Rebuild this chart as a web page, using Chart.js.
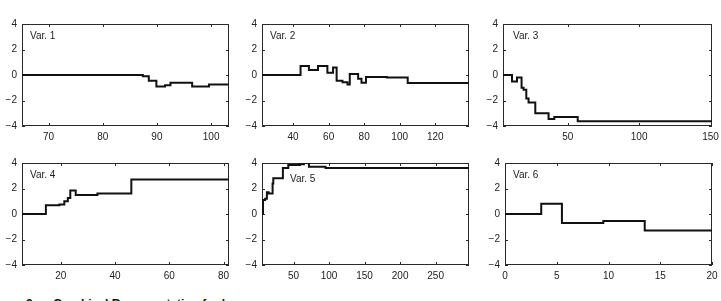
<!DOCTYPE html>
<html>
<head>
<meta charset="utf-8">
<script src="https://cdn.jsdelivr.net/npm/chart.js@4"></script>
<style>
  html, body { margin: 0; padding: 0; background: #fff; }
  body { width: 721px; height: 301px; position: relative; overflow: hidden; }
  canvas { position: absolute; }
  .cap { position: absolute; top: 297px; font: bold 12px "Liberation Sans Narrow", "Arial Narrow", "Liberation Sans", sans-serif; color: #111; white-space: nowrap; }
</style>
</head>
<body>
<canvas id="c1"></canvas>
<canvas id="c2"></canvas>
<canvas id="c3"></canvas>
<canvas id="c4"></canvas>
<canvas id="c5"></canvas>
<canvas id="c6"></canvas>
<div class="cap" style="left:-14px">Figure 3</div>
<div class="cap" style="left:53px">Graphical Representation for bupa</div>
<script>
// step breakpoints: value y[i] holds from x[i] to x[i+1]
const var1X = [65.1, 87.4, 88.5, 89.9, 91.5, 92.5, 96.5, 99.6, 103.3]
const var1Y = [0, -0.1, -0.45, -0.9, -0.8, -0.6, -0.9, -0.75, -0.75]

const var2X = [22.5, 44.2, 48.9, 54, 59.3, 62.5, 64.5, 67.8, 70.6, 71.9, 76.6, 78.5, 81, 92.8, 104.5, 139]
const var2Y = [0, 0.7, 0.39, 0.7, 0.18, 0.59, -0.45, -0.57, -0.75, 0.08, -0.3, -0.6, -0.15, -0.2, -0.62, -0.62]

const var3X = [4.7, 11, 14.5, 17.7, 19.1, 21, 22.6, 27.3, 36.6, 40.6, 57, 151]
const var3Y = [0, -0.5, -0.2, -1.0, -1.15, -1.85, -2.15, -3.0, -3.45, -3.3, -3.63, -3.63]

const var4X = [5.7, 14.5, 19.5, 21.3, 22.6, 23.5, 25.5, 33.5, 46, 82]
const var4Y = [0, 0.68, 0.75, 1.0, 1.25, 1.85, 1.5, 1.6, 2.7, 2.7]

const var5X = [5.6, 7, 10, 12.5, 15, 20.5, 21.5, 35, 42.6, 59, 64.6, 71.6, 95, 297]
const var5Y = [0, 1.1, 1.2, 1.7, 1.6, 2.4, 2.8, 3.6, 3.85, 3.9, 4.0, 3.7, 3.6, 3.6]

const var6X = [0, 3.5, 5.5, 9.5, 13.5, 20]
const var6Y = [0, 0.8, -0.7, -0.55, -1.3, -1.3]

const labels = ['Var. 1', 'Var. 2', 'Var. 3', 'Var. 4', 'Var. 5', 'Var. 6']
const xRanges = [[65.1, 103.3], [22.5, 139], [4.7, 151], [5.7, 82], [5.6, 297], [0, 20]]
const xSteps = [10, 20, 50, 20, 50, 5]
const yTicks = [-4, -2, 0, 2, 4]

const FONT = '"Liberation Sans", Arial, Helvetica, sans-serif'

// plot boxes in page pixels: left, top, right, bottom
const boxes = [
  [22, 21, 229, 126], [262, 21, 469, 126], [503, 21, 712, 126],
  [22, 160, 229, 265], [262, 160, 469, 265], [505, 160, 712, 265]
]
const labelPos = [[8, 12], [8, 12], [10, 12], [8, 12], [28, 16], [8, 12]]

const PAD_L = 26, PAD_T = 8, PAD_R = 14, PAD_B = 22

const framePlugin = {
  id: 'frame',
  beforeDatasetsDraw(chart) {
    const { ctx, chartArea: a, scales } = chart
    ctx.save()
    ctx.strokeStyle = '#2a2a2a'
    ctx.lineWidth = 1
    ctx.strokeRect(a.left + 0.5, a.top + 0.5, a.width - 1, a.height - 1)
    ctx.beginPath()
    scales.x.ticks.forEach(t => {
      const px = Math.round(scales.x.getPixelForValue(t.value)) + 0.5
      ctx.moveTo(px, a.bottom); ctx.lineTo(px, a.bottom - 3)
      ctx.moveTo(px, a.top); ctx.lineTo(px, a.top + 3)
    })
    scales.y.ticks.forEach(t => {
      const py = Math.round(scales.y.getPixelForValue(t.value)) + 0.5
      ctx.moveTo(a.left, py); ctx.lineTo(a.left + 3, py)
      ctx.moveTo(a.right, py); ctx.lineTo(a.right - 3, py)
    })
    ctx.stroke()
    ctx.restore()
  },
  afterDraw(chart, args, opts) {
    const { ctx, chartArea: a } = chart
    ctx.save()
    ctx.fillStyle = '#222'
    ctx.font = '10px ' + FONT
    ctx.textBaseline = 'middle'
    ctx.fillText(opts.text, a.left + opts.dx, a.top + opts.dy)
    ctx.restore()
  }
}

const series = [[var1X, var1Y], [var2X, var2Y], [var3X, var3Y], [var4X, var4Y], [var5X, var5Y], [var6X, var6Y]]

series.forEach(([xs, ys], i) => {
  const [l, t, r, b] = boxes[i]
  const canvas = document.getElementById('c' + (i + 1))
  canvas.width = r - l + PAD_L + PAD_R
  canvas.height = b - t + PAD_T + PAD_B
  canvas.style.left = (l - PAD_L) + 'px'
  canvas.style.top = (t - PAD_T) + 'px'

  new Chart(canvas, {
    type: 'line',
    data: {
      datasets: [{
        data: xs.map((x, k) => ({ x: x, y: ys[k] })),
        stepped: true,
        borderColor: '#111',
        borderWidth: 2,
        pointRadius: 0,
        fill: false
      }]
    },
    options: {
      responsive: false,
      animation: false,
      devicePixelRatio: 1,
      layout: { padding: { left: 0, top: PAD_T, right: PAD_R, bottom: 0 } },
      plugins: {
        legend: { display: false },
        tooltip: { enabled: false },
        frame: { text: labels[i], dx: labelPos[i][0], dy: labelPos[i][1] }
      },
      scales: {
        x: {
          type: 'linear',
          min: xRanges[i][0],
          max: xRanges[i][1],
          grid: { display: false, drawTicks: false },
          border: { display: false },
          afterFit: s => { s.height = PAD_B },
          ticks: {
            stepSize: xSteps[i],
            includeBounds: false,
            maxRotation: 0,
            padding: 5,
            color: '#222',
            font: { size: 10, family: FONT }
          }
        },
        y: {
          min: yTicks[0],
          max: yTicks[yTicks.length - 1],
          grid: { display: false, drawTicks: false },
          border: { display: false },
          afterFit: s => { s.width = PAD_L },
          ticks: {
            stepSize: 2,
            padding: 5,
            color: '#222',
            font: { size: 10, family: FONT },
            callback: v => String(v).replace('-', '\u2212')
          }
        }
      }
    },
    plugins: [framePlugin]
  })
})
</script>
</body>
</html>
